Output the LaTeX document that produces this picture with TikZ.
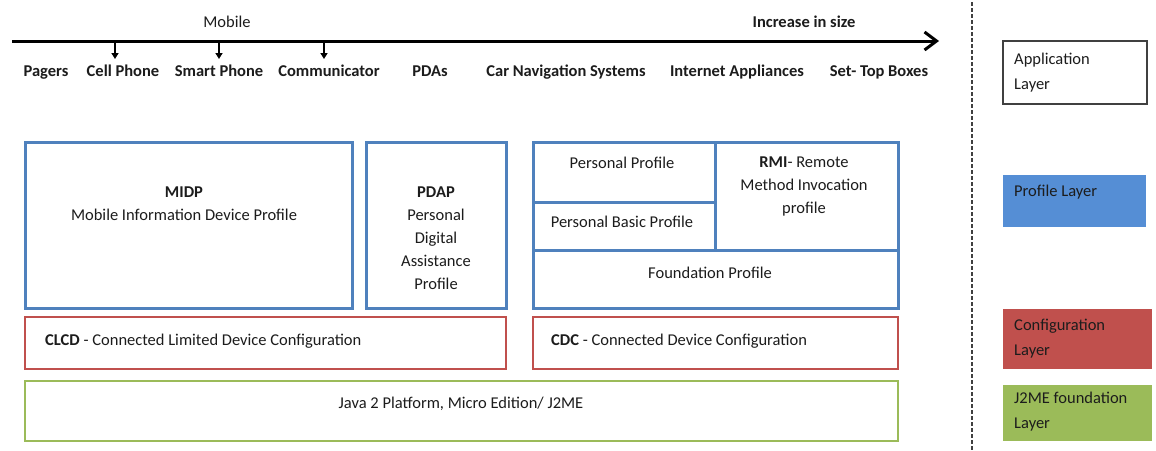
\documentclass[tikz,border=0pt]{standalone}
\usepackage{fontspec}
\setmainfont{Carlito}
\usetikzlibrary{arrows.meta,fit}
\definecolor{pblue}{HTML}{4F81BD}
\definecolor{pred}{HTML}{C0504D}
\definecolor{pgreen}{HTML}{9BBB59}
\definecolor{fblue}{HTML}{558ED5}
\definecolor{textc}{HTML}{1C1C1C}
\definecolor{edgec}{HTML}{404040}
\tikzset{
  txt/.style={font=\fontsize{16.5}{23}\selectfont, text=textc, inner sep=0pt, align=center},
  toplabel/.style={txt, font=\fontsize{16.5}{20}\selectfont\bfseries, text height=12pt, text depth=4pt},
  legtxt/.style={txt, align=left, anchor=west, font=\fontsize{16.5}{25}\selectfont},
  bluebox/.style={draw=pblue, line width=3pt, inner sep=0pt},
  redbox/.style={draw=pred, line width=2.5pt, inner sep=0pt},
  greenbox/.style={draw=pgreen, line width=2.5pt, inner sep=0pt},
  legbox/.style={inner sep=0pt},
  downarrow/.style={line width=1.5pt, -{Triangle[length=6pt,width=7pt]}},
}
\begin{document}
\begin{tikzpicture}[x=1pt,y=-1pt]
\useasboundingbox[fill=white] (0,0) rectangle (1156,450);

% axis
\coordinate (axL) at (12,41);
\coordinate (axR) at (939,41);
\draw[line width=3pt, -{Straight Barb[length=12pt,width=18pt,line width=3pt]}] (axL) -- (axR);
\node[txt] (mobile) at (227,22) {Mobile};
\node[toplabel] (incr) at (804,23) {Increase in size};

\coordinate (a1) at (115,41); \coordinate (b1) at (115,59);
\coordinate (a2) at (219,41); \coordinate (b2) at (219,59);
\coordinate (a3) at (324,41); \coordinate (b3) at (324,59);
\draw[downarrow] (a1) -- (b1);
\draw[downarrow] (a2) -- (b2);
\draw[downarrow] (a3) -- (b3);

\node[toplabel] (pagers) at (46,72) {Pagers};
\node[toplabel] (cell) at (123,72) {Cell Phone};
\node[toplabel] (smart) at (219,72) {Smart Phone};
\node[toplabel] (comm) at (329,72) {Communicator};
\node[toplabel] (pdas) at (430,72) {PDAs};
\node[toplabel] (car) at (566,72) {Car Navigation Systems};
\node[toplabel] (inet) at (737,72) {Internet Appliances};
\node[toplabel] (stb) at (879,72) {Set- Top Boxes};

% profile boxes
\node[bluebox, fit={(25,142) (352,308)}] (midp) {};
\node[txt] (midpt) at (184,204) {\textbf{MIDP}\\Mobile Information Device Profile};
\node[bluebox, fit={(366,142) (506,308)}] (pdap) {};
\node[txt] (pdapt) at (436,238.5) {\textbf{PDAP}\\Personal\\Digital\\Assistance\\Profile};

\node[bluebox, fit={(533,142) (898,308)}] (cdcgrp) {};
\coordinate (v1) at (715,142); \coordinate (v2) at (715,250);
\coordinate (h1) at (533,202); \coordinate (h2) at (715,202);
\coordinate (h3) at (533,250); \coordinate (h4) at (898,250);
\draw[draw=pblue, line width=3pt] (v1) -- (v2);
\draw[draw=pblue, line width=3pt] (h1) -- (h2);
\draw[draw=pblue, line width=3pt] (h3) -- (h4);
\node[txt] (pp) at (622,163) {Personal Profile};
\node[txt] (pbp) at (622,222) {Personal Basic Profile};
\node[txt] (rmi) at (804,186.5) {\textbf{RMI}- Remote\\Method Invocation\\profile};
\node[txt] (fp) at (710,273) {Foundation Profile};

% configuration
\node[redbox, fit={(25,317) (506,369)}] (clcd) {};
\node[txt, anchor=west] (clcdt) at (45,341) {\textbf{CLCD} - Connected Limited Device Configuration};
\node[redbox, fit={(533,317) (898,369)}] (cdc) {};
\node[txt, anchor=west] (cdct) at (551,341) {\textbf{CDC} - Connected Device Configuration};

% foundation
\node[greenbox, fit={(25,381) (898,441)}] (java) {};
\node[txt] (javat) at (461,404) {Java 2 Platform, Micro Edition/ J2ME};

% separator
\coordinate (s1) at (972,2); \coordinate (s2) at (972,450);
\draw[edgec, line width=1.5pt, dash pattern=on 4pt off 2pt] (s1) -- (s2);

% legend
\node[legbox, draw=edgec, line width=2pt, fit={(1003,41) (1147,104)}] (lapp) {};
\node[legtxt] (lappt) at (1014,73) {Application\\Layer};
\node[legbox, fill=fblue, fit={(1003,175) (1146,227)}] (lprof) {};
\node[legtxt] (lproft) at (1014,192) {Profile Layer};
\node[legbox, fill=pred, fit={(1003,309) (1152,369)}] (lconf) {};
\node[legtxt] (lconft) at (1014,338.5) {Configuration\\Layer};
\node[legbox, fill=pgreen, fit={(1003,385) (1152,441)}] (lj2me) {};
\node[legtxt] (lj2met) at (1014,411.5) {J2ME foundation\\Layer};
\end{tikzpicture}
\end{document}
